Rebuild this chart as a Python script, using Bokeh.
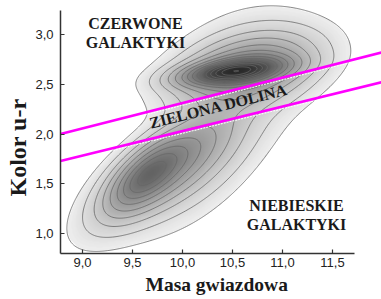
import numpy as np
from bokeh.plotting import figure
from bokeh.models import Range1d, Label, FixedTicker, LinearColorMapper, Title
from bokeh.embed import file_html
from bokeh.resources import INLINE

# ---- axis ticks ----
x_ticks = [9.0, 9.5, 10.0, 10.5, 11.0, 11.5]
x_tick_labels = ["9,0", "9,5", "10,0", "10,5", "11,0", "11,5"]
y_ticks = [1.0, 1.5, 2.0, 2.5, 3.0]
y_tick_labels = ["1,0", "1,5", "2,0", "2,5", "3,0"]

# ---- density components ----
#            red broad, red core, red halo, blue broad, blue core, blue wing
comp_cx = [10.62, 10.50, 10.70, 9.85, 9.62, 10.30]
comp_cy = [2.64, 2.63, 2.72, 1.68, 1.58, 1.70]
comp_major = [0.42, 0.32, 0.45, 0.50, 0.28, 0.55]
comp_minor = [0.19, 0.075, 0.33, 0.19, 0.13, 0.22]
comp_slope = [0.25, 0.12, 0.35, 0.80, 0.90, 1.00]
comp_amp = [0.30, 0.55, 0.05, 0.30, 0.25, 0.05]

contour_levels = [0.015, 0.04, 0.08, 0.13, 0.19, 0.26, 0.33, 0.40, 0.47,
                  0.54, 0.61, 0.68, 0.75, 0.82, 0.89]

# ---- green valley boundaries ----
valley_x = [8.78, 11.99]
valley_upper = [2.00, 2.82]
valley_lower = [1.73, 2.52]

X0, X1, Y0, Y1 = 8.78, 11.99, 0.80, 3.322

xs = np.linspace(X0, X1, 331)
ys = np.linspace(Y0, Y1, 261)
XX, YY = np.meshgrid(xs, ys)
Z = np.zeros_like(XX)
for cx, cy, ma, mi, sl, a in zip(comp_cx, comp_cy, comp_major, comp_minor, comp_slope, comp_amp):
    th = np.arctan(sl)
    dx, dy = XX - cx, YY - cy
    u = dx * np.cos(th) + dy * np.sin(th)
    v = -dx * np.sin(th) + dy * np.cos(th)
    Z += a * np.exp(-0.5 * (u ** 2 / ma ** 2 + v ** 2 / mi ** 2))

p = figure(width=381, height=299, output_backend="svg", toolbar_location=None,
           x_range=Range1d(X0, X1), y_range=Range1d(Y0, Y1),
           min_border_left=55, min_border_right=0, min_border_top=2, min_border_bottom=46)
p.outline_line_color = None
p.xgrid.visible = False
p.ygrid.visible = False
p.background_fill_color = "white"

# gray shading
grays = [int(round(255 - 230 * (i / 255) ** 0.6)) for i in range(256)]
palette = ["#%02x%02x%02x" % (g, g, g) for g in grays]
mapper = LinearColorMapper(palette=palette, low=0.0, high=1.0)
Zimg = np.where(Z < contour_levels[0], 0.0, Z)
p.image(image=[Zimg], x=X0, y=Y0, dw=X1 - X0, dh=Y1 - Y0, color_mapper=mapper)

p.contour(xs, ys, Z, levels=contour_levels, line_color="#666666", line_width=0.8)

# green valley boundary lines (thin light edge underneath, magenta on top)
for yv in (valley_upper, valley_lower):
    p.line(valley_x, [v - 0.022 for v in yv], line_color="white", line_width=1.2,
           line_dash="2 1", line_alpha=0.9)
    p.line(valley_x, yv, line_color="#ff00ff", line_width=2.6)

# axes
for ax, ticks, labs, bnds, st in ((p.xaxis[0], x_ticks, x_tick_labels, (8.78, 11.72), 4),
                                  (p.yaxis[0], y_ticks, y_tick_labels, (0.80, 3.24), 7)):
    ax.ticker = FixedTicker(ticks=ticks)
    ax.major_label_overrides = {t: l for t, l in zip(ticks, labs)}
    ax.bounds = bnds
    ax.major_tick_in = 4
    ax.major_tick_out = 0
    ax.minor_tick_in = 0
    ax.minor_tick_out = 0
    ax.axis_line_color = "#333333"
    ax.axis_line_width = 1.5
    ax.major_tick_line_color = "#333333"
    ax.major_tick_line_width = 1.2
    ax.major_label_text_font = "Liberation Sans"
    ax.major_label_text_font_size = "13px"
    ax.major_label_text_color = "#222222"
    ax.major_label_standoff = st

serif = "Liberation Serif"

# axis titles
p.add_layout(Title(text="Masa gwiazdowa", align="left", offset=85, standoff=4,
                   text_font=serif, text_font_style="bold", text_font_size="19.5px",
                   text_color="#1a1a1a"), "below")
p.add_layout(Title(text="Kolor u-r", align="left", offset=57, standoff=4,
                   text_font=serif, text_font_style="bold", text_font_size="24px",
                   text_color="#1a1a1a"), "left")

def lab(x, y, text, size="16px", angle=0.0):
    p.add_layout(Label(x=x, y=y, text=text, text_font=serif, text_font_style="bold",
                       text_font_size=size, text_color="#1a1a1a", text_align="center",
                       text_baseline="middle", angle=angle))

lab(9.53, 3.11, "CZERWONE")
lab(9.53, 2.92, "GALAKTYKI")
lab(11.14, 1.28, "NIEBIESKIE")
lab(11.14, 1.09, "GALAKTYKI")
lab(10.36, 2.28, "ZIELONA DOLINA", size="16px", angle=np.deg2rad(14))

open("out.html", "w").write(file_html(p, INLINE))
